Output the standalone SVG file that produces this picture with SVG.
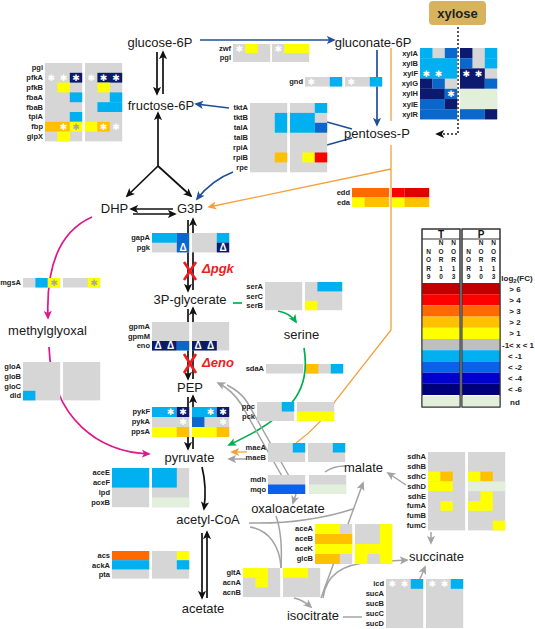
<svg xmlns="http://www.w3.org/2000/svg" width="535" height="629" viewBox="0 0 535 629">
<style>
.g{fill:#d6d6d6}.lb{fill:#00b0f0}.mb{fill:#0a68cc}.b2{fill:#0862ee}.bl{fill:#0000cc}.nv{fill:#0b1a6e}.nd{fill:#e2efda}.y{fill:#ffff00}.o{fill:#ffc000}.or{fill:#ff6a00}.r{fill:#ff0000}.r2{fill:#e00000}.dr{fill:#c00000}.lg{fill:#bfbfbf}.nv2{fill:#00007a}
text{font-family:"Liberation Sans",Arial,sans-serif}
.lab{font-size:7.5px;font-weight:bold;fill:#222;text-anchor:end}
.met{font-size:13px;fill:#1a1a1a;text-anchor:middle}
.as,.asg{font-family:"DejaVu Sans",sans-serif;font-size:9px;fill:#fff;text-anchor:middle}
.asg{fill:#a8a8a8}
.tr{font-size:10px;font-weight:bold;fill:#fff;text-anchor:middle}
.del{font-size:13px;font-weight:bold;font-style:italic;fill:#ee1c1c}
.nor{font-size:6.5px;font-weight:bold;fill:#222;text-anchor:middle}
.lh{font-size:10px;font-weight:bold;fill:#111;text-anchor:middle}
.ll{font-size:8px;font-weight:bold;fill:#222;text-anchor:middle}
.sk{stroke:#111;stroke-width:1.7;fill:none}
.sb{stroke:#1f4e9a;stroke-width:1.7;fill:none}
.sg{stroke:#a3a3a3;stroke-width:1.5;fill:none}
.so{stroke:#f5a03c;stroke-width:1.3;fill:none}
.sn{stroke:#00b050;stroke-width:1.7;fill:none}
.sm{stroke:#e0168c;stroke-width:1.7;fill:none}
.sx{stroke:#ee1c1c;stroke-width:2.6}
</style>
<defs>
<marker id="ak" viewBox="0 0 10 10" refX="8" refY="5" markerWidth="9" markerHeight="9" markerUnits="userSpaceOnUse" orient="auto"><path d="M0,0.5 L10,5 L0,9.5 L2.5,5 z" fill="#111"/></marker>
<marker id="ab" viewBox="0 0 10 10" refX="8" refY="5" markerWidth="9" markerHeight="9" markerUnits="userSpaceOnUse" orient="auto"><path d="M0,0.5 L10,5 L0,9.5 L2.5,5 z" fill="#1f4e9a"/></marker>
<marker id="ag" viewBox="0 0 10 10" refX="8" refY="5" markerWidth="9" markerHeight="9" markerUnits="userSpaceOnUse" orient="auto"><path d="M0,0.5 L10,5 L0,9.5 L2.5,5 z" fill="#a3a3a3"/></marker>
<marker id="ao" viewBox="0 0 10 10" refX="8" refY="5" markerWidth="9" markerHeight="9" markerUnits="userSpaceOnUse" orient="auto"><path d="M0,0.5 L10,5 L0,9.5 L2.5,5 z" fill="#f5a03c"/></marker>
<marker id="an" viewBox="0 0 10 10" refX="8" refY="5" markerWidth="9" markerHeight="9" markerUnits="userSpaceOnUse" orient="auto"><path d="M0,0.5 L10,5 L0,9.5 L2.5,5 z" fill="#00b050"/></marker>
<marker id="am" viewBox="0 0 10 10" refX="8" refY="5" markerWidth="9" markerHeight="9" markerUnits="userSpaceOnUse" orient="auto"><path d="M0,0.5 L10,5 L0,9.5 L2.5,5 z" fill="#e0168c"/></marker>
</defs>
<rect width="535" height="629" fill="#fff"/>

<g id="connectors">
 <line class="sk" x1="157" y1="52" x2="157" y2="94" marker-end="url(#ak)"/>
 <line class="sk" x1="163" y1="94" x2="163" y2="52" marker-end="url(#ak)"/>
 <line class="sk" x1="158" y1="166" x2="158" y2="113" marker-end="url(#ak)"/>
 <line class="sk" x1="158" y1="166" x2="127" y2="196" marker-end="url(#ak)"/>
 <line class="sk" x1="158" y1="166" x2="191" y2="196" marker-end="url(#ak)"/>
 <line class="sk" x1="173" y1="209" x2="131" y2="209" marker-end="url(#ak)"/>
 <line class="sk" x1="133" y1="214" x2="175" y2="214" marker-end="url(#ak)"/>
 <line class="sk" x1="188" y1="220" x2="188" y2="291" marker-end="url(#ak)"/>
 <line class="sk" x1="193" y1="290" x2="193" y2="219" marker-end="url(#ak)"/>
 <line class="sk" x1="188" y1="309" x2="188" y2="379" marker-end="url(#ak)"/>
 <line class="sk" x1="193" y1="379" x2="193" y2="308" marker-end="url(#ak)"/>
 <line class="sk" x1="188" y1="397" x2="188" y2="449" marker-end="url(#ak)"/>
 <line class="sk" x1="193" y1="449" x2="193" y2="396" marker-end="url(#ak)"/>
 <path class="sk" d="M202 467 Q207 487 204 509" marker-end="url(#ak)"/>
 <line class="sk" x1="202" y1="533" x2="202" y2="598" marker-end="url(#ak)"/>
 <line class="sk" x1="207" y1="598" x2="207" y2="532" marker-end="url(#ak)"/>

 <line class="sb" x1="200" y1="40" x2="334" y2="40" marker-end="url(#ab)"/>
 <line class="sb" x1="377" y1="50" x2="377" y2="125" marker-end="url(#ab)"/>
 <line class="sb" x1="229" y1="108" x2="196" y2="104" marker-end="url(#ab)"/>
 <path class="sb" d="M233 172 Q212 180 197 199" marker-end="url(#ab)"/>
 <line class="sb" x1="327" y1="122" x2="352" y2="129"/>
 <line class="sb" x1="327" y1="145" x2="352" y2="138"/>

 <path d="M458 27 V134 H437" fill="none" stroke="#222" stroke-width="1.5" stroke-dasharray="2 2" marker-end="url(#ak)"/>

 <line class="so" x1="391" y1="48" x2="391" y2="121"/>
 <path class="so" d="M391 145 V330 L336 400 Q322 424 296 443"/>
 <line class="so" x1="391" y1="169" x2="209" y2="207" marker-end="url(#ao)"/>
 <line class="so" x1="247" y1="452" x2="232" y2="452" stroke-width="1.7" marker-end="url(#ao)"/>

 <line class="sn" x1="233" y1="303" x2="242" y2="303"/>
 <path class="sn" d="M278 311 Q290 313 296 322" marker-end="url(#an)"/>
 <path class="sn" d="M304 348 C308 372 303 392 288 407 C270 425 250 435 229 445" marker-end="url(#an)"/>

 <path class="sm" d="M92 217 C58 232 46 270 48 318" marker-end="url(#am)"/>
 <path class="sm" d="M49 347 C52 420 100 452 149 454" marker-end="url(#am)"/>

 <path class="sg" d="M283 478 L241 404 C236 396 228 388 218 383" marker-end="url(#ag)"/>
 <path class="sg" d="M289 476 L247 402 C242 394 235 389 227 385"/>
 <line class="sg" x1="247" y1="459" x2="229" y2="459" marker-end="url(#ag)"/>
 <path class="sg" d="M345 466 Q333 466 325 472"/>
 <line class="sg" x1="296" y1="494" x2="293" y2="503" marker-end="url(#ag)"/>
 <line class="sg" x1="406" y1="485" x2="388" y2="473" marker-end="url(#ag)"/>
 <path class="sg" d="M249 523 C290 524 325 518 353 509"/>
 <line class="sg" x1="321" y1="598" x2="363" y2="483" marker-end="url(#ag)"/>
 <path class="sg" d="M250 527 C268 530 280 545 281 568"/>
 <path class="sg" d="M276 516 C281 530 282 550 281 568"/>
 <path class="sg" d="M294 598 Q303 600 311 607" marker-end="url(#ag)"/>
 <path class="sg" d="M323 598 C326 575 342 564 372 562 L407 560" marker-end="url(#ag)"/>
 <line class="sg" x1="343" y1="617" x2="362" y2="617"/>
 <line class="sg" x1="431" y1="532" x2="431" y2="543" marker-end="url(#ag)"/>
 <line class="sg" x1="420" y1="579" x2="425" y2="567" marker-end="url(#ag)"/>

 <line class="sx" x1="184" y1="262" x2="196" y2="280"/><line class="sx" x1="196" y1="262" x2="184" y2="280"/>
 <line class="sx" x1="184" y1="354" x2="196" y2="373"/><line class="sx" x1="196" y1="354" x2="184" y2="373"/>
</g>

<g id="xylose"><rect x="429" y="1" width="57" height="24" rx="4" fill="#d6b35c"/><text x="457.5" y="18" font-size="13" font-weight="bold" fill="#222" text-anchor="middle">xylose</text></g>
<g id="glucose6p"><text class="met" x="160" y="47">glucose-6P</text></g>
<g id="gluconate6p"><text class="met" x="373" y="47">gluconate-6P</text></g>
<g id="fructose6p"><text class="met" x="161" y="110">fructose-6P</text></g>
<g id="pentosesp"><text class="met" x="377" y="138">pentoses-P</text></g>
<g id="dhp"><text class="met" x="114.5" y="213">DHP</text></g>
<g id="g3p"><text class="met" x="190" y="213">G3P</text></g>
<g id="p3glycerate"><text class="met" x="190" y="304">3P-glycerate</text></g>
<g id="pep"><text class="met" x="190" y="392">PEP</text></g>
<g id="pyruvate"><text class="met" x="189.5" y="462">pyruvate</text></g>
<g id="acetylcoa"><text class="met" x="208" y="524">acetyl-CoA</text></g>
<g id="acetate"><text class="met" x="203" y="613">acetate</text></g>
<g id="methylglyoxal"><text class="met" x="47.5" y="335">methylglyoxal</text></g>
<g id="serine"><text class="met" x="301.5" y="339">serine</text></g>
<g id="oxaloacetate"><text class="met" x="288" y="513">oxaloacetate</text></g>
<g id="malate"><text class="met" x="363.5" y="472">malate</text></g>
<g id="succinate"><text class="met" x="436.5" y="561">succinate</text></g>
<g id="isocitrate"><text class="met" x="313" y="620">isocitrate</text></g>
<g id="dpgk"><text class="del" x="202" y="273">Δpgk</text></g>
<g id="deno"><text class="del" x="202" y="367">Δeno</text></g>

<g id="hm-pgi">
 <text class="lab" x="43" y="70.3">pgi</text><text class="lab" x="43" y="80.1">pfkA</text><text class="lab" x="43" y="89.9">pfkB</text><text class="lab" x="43" y="99.7">fbaA</text><text class="lab" x="43" y="109.5">fbaB</text><text class="lab" x="43" y="119.3">tpiA</text><text class="lab" x="43" y="129.1">fbp</text><text class="lab" x="43" y="138.9">glpX</text>
 <g transform="translate(45,63)"><rect class="g" width="37.2" height="78.4"/>
  <rect class="nv" x="24.8" y="9.8" width="12.4" height="9.8"/><rect class="y" x="12.4" y="19.6" width="12.4" height="9.8"/><rect class="lb" x="24.8" y="29.4" width="12.4" height="9.8"/><rect class="lb" x="24.8" y="49" width="12.4" height="9.8"/><rect class="o" x="0" y="58.8" width="24.8" height="9.8"/><rect class="y" x="24.8" y="58.8" width="12.4" height="9.8"/><rect class="y" x="12.4" y="68.6" width="12.4" height="9.8"/>
  <text class="as" x="6.2" y="18">✱</text><text class="as" x="18.6" y="18">✱</text><text class="as" x="31" y="18">✱</text><text class="as" x="18.6" y="67">✱</text><text class="asg" x="31" y="67">✱</text>
 </g>
 <g transform="translate(85,63)"><rect class="g" width="37.2" height="78.4"/>
  <rect class="nv" x="12.4" y="9.8" width="24.8" height="9.8"/><rect class="y" x="12.4" y="19.6" width="12.4" height="9.8"/><rect class="lb" x="24.8" y="29.4" width="12.4" height="9.8"/><rect class="lb" x="12.4" y="39.2" width="24.8" height="9.8"/><rect class="y" x="0" y="58.8" width="12.4" height="9.8"/><rect class="o" x="12.4" y="58.8" width="12.4" height="9.8"/>
  <text class="as" x="6.2" y="18">✱</text><text class="as" x="18.6" y="18">✱</text><text class="as" x="31" y="18">✱</text><text class="as" x="18.6" y="67">✱</text><text class="as" x="31" y="67">✱</text>
 </g>
</g>

<g id="hm-zwf">
 <text class="lab" x="231" y="51">zwf</text><text class="lab" x="231" y="60">pgl</text>
 <g transform="translate(233,44)"><rect class="g" width="37.2" height="18"/><rect class="y" x="12.4" width="12.4" height="9"/><text class="as" x="6.2" y="7.8">✱</text></g>
 <g transform="translate(272,44)"><rect class="g" width="37.2" height="18"/><rect class="y" x="12.4" width="24.8" height="9"/><text class="as" x="6.2" y="7.8">✱</text></g>
</g>

<g id="hm-gnd">
 <text class="lab" x="303" y="84">gnd</text>
 <g transform="translate(305,77)"><rect class="g" width="37.2" height="9.5"/><rect class="lb" x="24.8" width="12.4" height="9.5"/><text class="as" x="6.2" y="8">✱</text></g>
 <g transform="translate(345,77)"><rect class="g" width="37.2" height="9.5"/><rect class="lb" x="24.8" width="12.4" height="9.5"/><text class="as" x="6.2" y="8">✱</text></g>
</g>

<g id="hm-tkt">
 <text class="lab" x="248" y="110.3">tktA</text><text class="lab" x="248" y="120.2">tktB</text><text class="lab" x="248" y="130.1">talA</text><text class="lab" x="248" y="140">talB</text><text class="lab" x="248" y="149.9">rpiA</text><text class="lab" x="248" y="159.8">rpiB</text><text class="lab" x="248" y="169.7">rpe</text>
 <g transform="translate(250,103)"><rect class="g" width="37.2" height="69.3"/><rect class="lb" x="24.8" y="9.9" width="12.4" height="19.8"/><rect class="o" x="24.8" y="49.5" width="12.4" height="9.9"/></g>
 <g transform="translate(290,103)"><rect class="g" width="37.2" height="69.3"/><rect class="lb" x="24.8" y="0" width="12.4" height="9.9"/><rect class="lb" x="0" y="9.9" width="24.8" height="19.8"/><rect class="mb" x="24.8" y="19.8" width="12.4" height="9.9"/><rect class="y" x="12.4" y="49.5" width="12.4" height="9.9"/><rect class="r" x="24.8" y="49.5" width="12.4" height="9.9"/></g>
</g>

<g id="hm-xyl">
 <text class="lab" x="418" y="55.5">xylA</text><text class="lab" x="418" y="65.7">xylB</text><text class="lab" x="418" y="75.9">xylF</text><text class="lab" x="418" y="86.1">xylG</text><text class="lab" x="418" y="96.3">xylH</text><text class="lab" x="418" y="106.5">xylE</text><text class="lab" x="418" y="116.7">xylR</text>
 <g transform="translate(420,48)"><rect class="g" width="37.2" height="71.4"/>
  <rect class="lb" x="0" y="0" width="12.4" height="10.2"/><rect class="mb" x="24.8" y="0" width="12.4" height="10.2"/>
  <rect class="lb" x="0" y="10.2" width="37.2" height="20.4"/>
  <rect class="nv" x="0" y="30.6" width="12.4" height="10.2"/><rect class="mb" x="12.4" y="30.6" width="12.4" height="10.2"/>
  <rect class="nv" x="0" y="40.8" width="24.8" height="10.2"/><rect class="mb" x="24.8" y="40.8" width="12.4" height="10.2"/>
  <rect class="mb" x="0" y="51" width="24.8" height="10.2"/><rect class="nv" x="24.8" y="51" width="12.4" height="10.2"/>
  <rect class="mb" x="0" y="61.2" width="37.2" height="10.2"/>
  <text class="as" x="6.2" y="28.8">✱</text><text class="as" x="18.6" y="28.8">✱</text><text class="as" x="31" y="49.2">✱</text>
 </g>
 <g transform="translate(460,48)"><rect class="g" width="37.2" height="71.4"/>
  <rect class="nv" x="0" y="0" width="12.4" height="10.2"/><rect class="lb" x="24.8" y="0" width="12.4" height="10.2"/>
  <rect class="mb" x="0" y="10.2" width="12.4" height="10.2"/><rect class="lb" x="24.8" y="10.2" width="12.4" height="10.2"/>
  <rect class="nv" x="0" y="20.4" width="24.8" height="20.4"/><rect class="mb" x="24.8" y="30.6" width="12.4" height="10.2"/>
  <rect class="nd" x="0" y="40.8" width="37.2" height="20.4"/>
  <rect class="mb" x="0" y="61.2" width="24.8" height="10.2"/><rect class="nv" x="24.8" y="61.2" width="12.4" height="10.2"/>
  <text class="as" x="6.2" y="28.8">✱</text><text class="as" x="18.6" y="28.8">✱</text>
 </g>
</g>

<g id="hm-edd">
 <text class="lab" x="350" y="195.3">edd</text><text class="lab" x="350" y="204.8">eda</text>
 <g transform="translate(352,188)"><rect class="or" width="37.2" height="9.5"/><rect class="y" y="9.5" width="12.4" height="9.5"/><rect class="o" x="12.4" y="9.5" width="24.8" height="9.5"/></g>
 <g transform="translate(392,188)"><rect class="r" width="12.4" height="9.5"/><rect class="r2" x="12.4" width="24.8" height="9.5"/><rect class="y" y="9.5" width="12.4" height="9.5"/><rect class="o" x="12.4" y="9.5" width="24.8" height="9.5"/></g>
</g>

<g id="hm-gap">
 <text class="lab" x="150" y="240.3">gapA</text><text class="lab" x="150" y="250">pgk</text>
 <g transform="translate(152,233)"><rect class="g" width="37.2" height="19.4"/><rect class="lb" width="24.8" height="9.7"/><rect class="mb" x="24.8" width="12.4" height="19.4"/><text class="tr" x="31" y="18.2">Δ</text></g>
 <g transform="translate(192,233)"><rect class="g" width="37.2" height="19.4"/><rect class="lb" x="24.8" width="12.4" height="9.7"/><rect class="nv" x="24.8" y="9.7" width="12.4" height="9.7"/><text class="tr" x="31" y="18.2">Δ</text></g>
</g>

<g id="hm-gpm">
 <text class="lab" x="150" y="329.3">gpmA</text><text class="lab" x="150" y="338.8">gpmM</text><text class="lab" x="150" y="348.3">eno</text>
 <g transform="translate(152,322)"><rect class="g" width="37.2" height="28.5"/><rect class="nv" y="19" width="24.8" height="9.5"/><rect class="mb" x="24.8" y="19" width="12.4" height="9.5"/><text class="tr" x="6.2" y="27.4">Δ</text><text class="tr" x="18.6" y="27.4">Δ</text></g>
 <g transform="translate(192,322)"><rect class="g" width="37.2" height="28.5"/><rect class="nv" y="19" width="24.8" height="9.5"/><text class="tr" x="6.2" y="27.4">Δ</text><text class="tr" x="18.6" y="27.4">Δ</text></g>
</g>

<g id="hm-pyk">
 <text class="lab" x="150" y="414.3">pykF</text><text class="lab" x="150" y="424.3">pykA</text><text class="lab" x="150" y="434.3">ppsA</text>
 <g transform="translate(152,407)"><rect class="g" width="37.2" height="30"/><rect class="lb" width="24.8" height="10"/><rect class="nv" x="24.8" width="12.4" height="10"/><rect class="y" y="20" width="24.8" height="10"/><rect class="o" x="24.8" y="20" width="12.4" height="10"/>
  <text class="as" x="18.6" y="8.3">✱</text><text class="as" x="31" y="8.3">✱</text><text class="as" x="31" y="18.3">✱</text></g>
 <g transform="translate(192,407)"><rect class="g" width="37.2" height="30"/><rect class="lb" width="24.8" height="10"/><rect class="nv" x="24.8" width="12.4" height="10"/><rect class="mb" y="10" width="12.4" height="10"/><rect class="y" y="20" width="24.8" height="10"/><rect class="o" x="24.8" y="20" width="12.4" height="10"/>
  <text class="as" x="18.6" y="8.3">✱</text><text class="as" x="31" y="8.3">✱</text><text class="as" x="31" y="18.3">✱</text></g>
</g>

<g id="hm-mgs">
 <text class="lab" x="21" y="285.3">mgsA</text>
 <g transform="translate(23,278)"><rect class="g" width="37.2" height="9.5"/><rect class="lb" x="12.4" width="12.4" height="9.5"/><rect class="y" x="24.8" width="12.4" height="9.5"/><text class="asg" x="31" y="8">✱</text></g>
 <g transform="translate(63,278)"><rect class="g" width="37.2" height="9.5"/><rect class="y" x="24.8" width="12.4" height="9.5"/><text class="asg" x="31" y="8">✱</text></g>
</g>

<g id="hm-glo">
 <text class="lab" x="21" y="369.3">gloA</text><text class="lab" x="21" y="378.9">gloB</text><text class="lab" x="21" y="388.5">gloC</text><text class="lab" x="21" y="398.1">dld</text>
 <g transform="translate(23,362)"><rect class="g" width="37.2" height="38.4"/><rect class="lb" y="28.8" width="12.4" height="9.6"/></g>
 <g transform="translate(63,362)"><rect class="g" width="37.2" height="38.4"/></g>
</g>

<g id="hm-ser">
 <text class="lab" x="263" y="289.3">serA</text><text class="lab" x="263" y="298.7">serC</text><text class="lab" x="263" y="308.1">serB</text>
 <g transform="translate(265,282)"><rect class="g" width="37.2" height="28.2"/></g>
 <g transform="translate(305,282)"><rect class="g" width="37.2" height="28.2"/><rect class="lb" x="12.4" width="24.8" height="9.4"/><rect class="y" y="18.8" width="12.4" height="9.4"/></g>
</g>

<g id="hm-sda">
 <text class="lab" x="264" y="371.3">sdaA</text>
 <g transform="translate(266,364)"><rect class="g" width="37.2" height="9.5"/></g>
 <g transform="translate(306,364)"><rect class="g" width="37.2" height="9.5"/><rect class="o" width="12.4" height="9.5"/><rect class="lb" x="24.8" width="12.4" height="9.5"/></g>
</g>

<g id="hm-ppc">
 <text class="lab" x="255" y="409.3">ppc</text><text class="lab" x="255" y="418.8">pck</text>
 <g transform="translate(257,402)"><rect class="g" width="37.2" height="19"/><rect class="lb" x="24.8" width="12.4" height="9.5"/></g>
 <g transform="translate(297,402)"><rect class="g" width="37.2" height="19"/><rect class="y" y="9.5" width="37.2" height="9.5"/></g>
</g>

<g id="hm-mae">
 <text class="lab" x="266" y="450.3">maeA</text><text class="lab" x="266" y="459.8">maeB</text>
 <g transform="translate(268,443)"><rect class="g" width="37.2" height="19"/><rect class="lb" x="24.8" width="12.4" height="9.5"/></g>
 <g transform="translate(308,443)"><rect class="g" width="37.2" height="19"/><rect class="lb" x="24.8" width="12.4" height="9.5"/></g>
</g>

<g id="hm-mdh">
 <text class="lab" x="266" y="482.3">mdh</text><text class="lab" x="266" y="491.8">mqo</text>
 <g transform="translate(268,475)"><rect class="g" width="37.2" height="19"/><rect class="b2" y="9.5" width="37.2" height="9.5"/></g>
 <g transform="translate(309,475)"><rect class="g" width="37.2" height="19"/><rect class="nd" y="9.5" width="37.2" height="9.5"/></g>
</g>

<g id="hm-ace">
 <text class="lab" x="110" y="475.3">aceE</text><text class="lab" x="110" y="485.1">aceF</text><text class="lab" x="110" y="494.9">lpd</text><text class="lab" x="110" y="504.7">poxB</text>
 <g transform="translate(112,468)"><rect class="g" width="37.2" height="39.2"/><rect class="lb" width="37.2" height="19.6"/></g>
 <g transform="translate(152,468)"><rect class="g" width="37.2" height="39.2"/><rect class="lb" width="24.8" height="19.6"/><rect class="nd" y="29.4" width="37.2" height="9.8"/></g>
</g>

<g id="hm-acs">
 <text class="lab" x="110" y="558.3">acs</text><text class="lab" x="110" y="567.5">ackA</text><text class="lab" x="110" y="576.7">pta</text>
 <g transform="translate(112,551)"><rect class="g" width="37.2" height="27.6"/><rect class="or" width="37.2" height="9.2"/><rect class="lb" y="9.2" width="37.2" height="9.2"/></g>
 <g transform="translate(152,551)"><rect class="g" width="37.2" height="27.6"/><rect class="y" x="24.8" width="12.4" height="9.2"/><rect class="lb" x="24.8" y="9.2" width="12.4" height="9.2"/></g>
</g>

<g id="hm-glt">
 <text class="lab" x="241" y="575.3">gltA</text><text class="lab" x="241" y="585">acnA</text><text class="lab" x="241" y="594.7">acnB</text>
 <g transform="translate(243,568)"><rect class="g" width="37.2" height="29.1"/><rect class="y" width="24.8" height="9.7"/><rect class="y" x="12.4" y="9.7" width="12.4" height="9.7"/></g>
 <g transform="translate(283,568)"><rect class="g" width="37.2" height="29.1"/><rect class="y" width="24.8" height="9.7"/></g>
</g>

<g id="hm-aceA">
 <text class="lab" x="313" y="531.3">aceA</text><text class="lab" x="313" y="541.3">aceB</text><text class="lab" x="313" y="551.3">aceK</text><text class="lab" x="313" y="561.3">glcB</text>
 <g transform="translate(315,524)"><rect class="g" width="37.2" height="40"/><rect class="y" width="24.8" height="10"/><rect class="o" y="10" width="37.2" height="10"/><rect class="y" y="20" width="37.2" height="10"/><rect class="o" y="30" width="24.8" height="10"/></g>
 <g transform="translate(355,524)"><rect class="g" width="37.2" height="40"/><rect class="y" x="24.8" width="12.4" height="20"/><rect class="y" y="20" width="37.2" height="10"/><rect class="y" y="30" width="12.4" height="10"/><rect class="y" x="24.8" y="30" width="12.4" height="10"/></g>
</g>

<g id="hm-sdh">
 <text class="lab" x="426" y="459.3">sdhA</text><text class="lab" x="426" y="469.1">sdhB</text><text class="lab" x="426" y="478.9">sdhC</text><text class="lab" x="426" y="488.7">sdhD</text><text class="lab" x="426" y="498.5">sdhE</text><text class="lab" x="426" y="508.3">fumA</text><text class="lab" x="426" y="518.1">fumB</text><text class="lab" x="426" y="527.9">fumC</text>
 <g transform="translate(428,452)"><rect class="g" width="37.2" height="78.4"/><rect class="y" y="19.6" width="12.4" height="9.8"/><rect class="o" x="12.4" y="19.6" width="12.4" height="9.8"/><rect class="y" y="29.4" width="24.8" height="9.8"/><rect class="y" x="12.4" y="49" width="12.4" height="9.8"/></g>
 <g transform="translate(468,452)"><rect class="g" width="37.2" height="78.4"/><rect class="y" y="19.6" width="12.4" height="9.8"/><rect class="o" x="12.4" y="19.6" width="12.4" height="9.8"/><rect class="nd" y="29.4" width="37.2" height="9.8"/><rect class="y" x="12.4" y="39.2" width="12.4" height="9.8"/><rect class="y" y="49" width="24.8" height="9.8"/><rect class="y" x="24.8" y="68.6" width="12.4" height="9.8"/></g>
</g>

<g id="hm-suc">
 <text class="lab" x="384" y="586.3">icd</text><text class="lab" x="384" y="596.1">sucA</text><text class="lab" x="384" y="605.9">sucB</text><text class="lab" x="384" y="615.7">sucC</text><text class="lab" x="384" y="625.5">sucD</text>
 <g transform="translate(386,579)"><rect class="g" width="37.2" height="49"/><rect class="lb" x="24.8" width="12.4" height="9.8"/><text class="as" x="6.2" y="8.2">✱</text><text class="as" x="18.6" y="8.2">✱</text></g>
 <g transform="translate(426,579)"><rect class="g" width="37.2" height="49"/><rect class="lb" x="24.8" width="12.4" height="9.8"/><text class="as" x="6.2" y="8.2">✱</text><text class="as" x="18.6" y="8.2">✱</text></g>
</g>

<g id="legend">
 <g transform="translate(422,229)">
  <rect width="38" height="178" fill="#fff" stroke="#333"/>
  <rect class="dr" y="54" width="38" height="11.2"/><rect class="r" y="65.2" width="38" height="11.2"/><rect class="or" y="76.4" width="38" height="11.2"/><rect class="o" y="87.6" width="38" height="11.2"/><rect class="y" y="98.8" width="38" height="11.2"/><rect class="lg" y="110" width="38" height="11.2"/><rect class="lb" y="121.2" width="38" height="11.2"/><rect class="b2" y="132.4" width="38" height="11.2"/><rect class="bl" y="143.6" width="38" height="11.2"/><rect class="nv2" y="154.8" width="38" height="11.2"/><rect class="nd" y="167" width="38" height="11"/>
  <rect width="38" height="178" fill="none" stroke="#333"/>
  <line x1="0" y1="10" x2="38" y2="10" stroke="#333"/>
  <text class="lh" x="19" y="9">T</text>
  <text class="nor" x="6.5" y="24.5">N<tspan x="6.5" dy="8.5">O</tspan><tspan x="6.5" dy="8.5">R</tspan><tspan x="6.5" dy="8.5">9</tspan></text>
  <text class="nor" x="19" y="16">N<tspan x="19" dy="8.5">O</tspan><tspan x="19" dy="8.5">R</tspan><tspan x="19" dy="8.5">1</tspan><tspan x="19" dy="8.5">0</tspan></text>
  <text class="nor" x="31.5" y="16">N<tspan x="31.5" dy="8.5">O</tspan><tspan x="31.5" dy="8.5">R</tspan><tspan x="31.5" dy="8.5">1</tspan><tspan x="31.5" dy="8.5">3</tspan></text>
 </g>
 <g transform="translate(462,229)">
  <rect width="38" height="178" fill="#fff" stroke="#333"/>
  <rect class="dr" y="54" width="38" height="11.2"/><rect class="r" y="65.2" width="38" height="11.2"/><rect class="or" y="76.4" width="38" height="11.2"/><rect class="o" y="87.6" width="38" height="11.2"/><rect class="y" y="98.8" width="38" height="11.2"/><rect class="lg" y="110" width="38" height="11.2"/><rect class="lb" y="121.2" width="38" height="11.2"/><rect class="b2" y="132.4" width="38" height="11.2"/><rect class="bl" y="143.6" width="38" height="11.2"/><rect class="nv2" y="154.8" width="38" height="11.2"/><rect class="nd" y="167" width="38" height="11"/>
  <rect width="38" height="178" fill="none" stroke="#333"/>
  <line x1="0" y1="10" x2="38" y2="10" stroke="#333"/>
  <text class="lh" x="19" y="9">P</text>
  <text class="nor" x="6.5" y="24.5">N<tspan x="6.5" dy="8.5">O</tspan><tspan x="6.5" dy="8.5">R</tspan><tspan x="6.5" dy="8.5">9</tspan></text>
  <text class="nor" x="19" y="16">N<tspan x="19" dy="8.5">O</tspan><tspan x="19" dy="8.5">R</tspan><tspan x="19" dy="8.5">1</tspan><tspan x="19" dy="8.5">0</tspan></text>
  <text class="nor" x="31.5" y="16">N<tspan x="31.5" dy="8.5">O</tspan><tspan x="31.5" dy="8.5">R</tspan><tspan x="31.5" dy="8.5">1</tspan><tspan x="31.5" dy="8.5">3</tspan></text>
 </g>
 <text class="ll" x="517" y="281" font-size="9">log<tspan font-size="6" dy="2">2</tspan><tspan dy="-2">(FC)</tspan></text>
 <text class="ll" x="515" y="291.6">&gt; 6</text>
 <text class="ll" x="515" y="302.8">&gt; 4</text>
 <text class="ll" x="515" y="314">&gt; 3</text>
 <text class="ll" x="515" y="325.2">&gt; 2</text>
 <text class="ll" x="515" y="336.4">&gt; 1</text>
 <text class="ll" x="518" y="347.6">-1&lt; x &lt; 1</text>
 <text class="ll" x="515" y="358.8">&lt; -1</text>
 <text class="ll" x="515" y="370">&lt; -2</text>
 <text class="ll" x="515" y="381.2">&lt; -4</text>
 <text class="ll" x="515" y="392.4">&lt; -6</text>
 <text class="ll" x="515" y="404.5">nd</text>
</g>
</svg>
